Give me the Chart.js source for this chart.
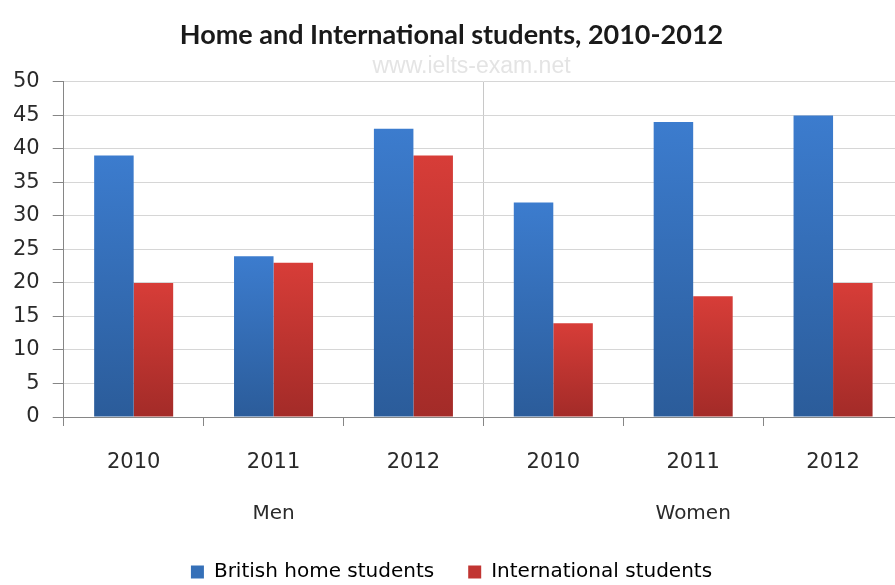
<!DOCTYPE html>
<html>
<head>
<meta charset="utf-8">
<script src="https://cdn.jsdelivr.net/npm/chart.js@4.4.1/dist/chart.umd.min.js"></script>
<style>
  html, body { margin: 0; padding: 0; background: #fff; overflow: hidden; }
  #wrap { width: 903px; height: 585px; }
</style>
</head>
<body>
<div id="wrap"><canvas id="c" width="903" height="585"></canvas></div>
<script>
// Student numbers by year, split into Men and Women groups
const years = ['2010', '2011', '2012', '2010', '2011', '2012'];
const groups = ['Men', 'Women'];
const britishHome = [39, 24, 43, 32, 44, 45];
const international = [20, 23, 39, 14, 18, 20];
const yTicks = [0, 5, 10, 15, 20, 25, 30, 35, 40, 45, 50];

// Vertical shading for each bar, lighter at the top, darker at the base
function barShade(topColor, bottomColor, flat) {
  return (ctx) => {
    const chart = ctx.chart;
    if (!chart.chartArea || ctx.raw == null) return flat;
    const y = chart.scales.y;
    const top = y.getPixelForValue(ctx.raw);
    const base = y.getPixelForValue(0);
    const g = chart.ctx.createLinearGradient(0, top, 0, base);
    g.addColorStop(0, topColor);
    g.addColorStop(1, bottomColor);
    return g;
  };
}

// Faint site address above the plot
const watermark = {
  id: 'watermark',
  beforeDraw(chart) {
    const { ctx, chartArea } = chart;
    ctx.save();
    ctx.font = '23px "Liberation Sans"';
    ctx.fillStyle = '#e4e4e4';
    ctx.textAlign = 'center';
    ctx.textBaseline = 'middle';
    ctx.fillText('www.ielts-exam.net', chart.width / 2 + 20, chartArea.top - 15);
    ctx.restore();
  }
};

new Chart(document.getElementById('c'), {
  type: 'bar',
  data: {
    labels: years,
    datasets: [
      {
        label: 'British home students',
        data: britishHome,
        backgroundColor: barShade('#3c7cce', '#2b5c9a', '#3570b8'),
        borderWidth: 0,
        categoryPercentage: 0.565,
        barPercentage: 1.0
      },
      {
        label: 'International students',
        data: international,
        backgroundColor: barShade('#d73d38', '#a32b28', '#c13532'),
        borderWidth: 0,
        categoryPercentage: 0.565,
        barPercentage: 1.0
      }
    ]
  },
  plugins: [watermark],
  options: {
    responsive: false,
    animation: false,
    layout: { padding: { left: 0, right: 0, top: 0, bottom: -7 } },
    plugins: {
      title: {
        display: true,
        text: 'Home and International students, 2010-2012',
        font: { family: 'Lato', weight: 'bold', size: 27 },
        color: '#1a1a1a',
        padding: { top: 19, bottom: 30.5 }
      },
      legend: {
        position: 'bottom',
        labels: {
          font: { family: 'DejaVu Sans', size: 20 },
          color: '#222',
          boxWidth: 13,
          boxHeight: 13,
          padding: 34,
          generateLabels(chart) {
            return chart.data.datasets.map((ds, i) => ({
              text: ds.label,
              fillStyle: i === 0 ? '#3570b8' : '#c13532',
              strokeStyle: 'rgba(0,0,0,0)',
              lineWidth: 0,
              datasetIndex: i
            }));
          }
        }
      },
      tooltip: { enabled: false }
    },
    scales: {
      x: {
        type: 'category',
        position: 'bottom',
        weight: 0,
        offset: true,
        grid: {
          offset: true,
          drawOnChartArea: true,
          color: (ctx) => (ctx.index === 3 ? '#c8c8c8' : 'rgba(0,0,0,0)'),
          tickColor: '#868686',
          tickLength: 9
        },
        border: { color: '#868686', width: 1 },
        ticks: { font: { family: 'DejaVu Sans', size: 21 }, color: '#2a2a2a', padding: 24.4, maxRotation: 0 }
      },
      x2: {
        type: 'category',
        labels: groups,
        position: 'bottom',
        weight: 1,
        offset: true,
        grid: { display: false, drawTicks: false },
        border: { display: false },
        ticks: { font: { family: 'DejaVu Sans', size: 20 }, color: '#2a2a2a', padding: 2, maxRotation: 0 }
      },
      y: {
        min: 0,
        max: 50,
        afterBuildTicks(scale) { scale.ticks = yTicks.map(v => ({ value: v })); },
        grid: { color: '#d6d6d6', tickColor: '#868686', tickLength: 11 },
        border: { color: '#868686', width: 1 },
        ticks: { font: { family: 'DejaVu Sans', size: 21 }, color: '#2a2a2a', padding: 13 }
      }
    }
  }
});
</script>
</body>
</html>
